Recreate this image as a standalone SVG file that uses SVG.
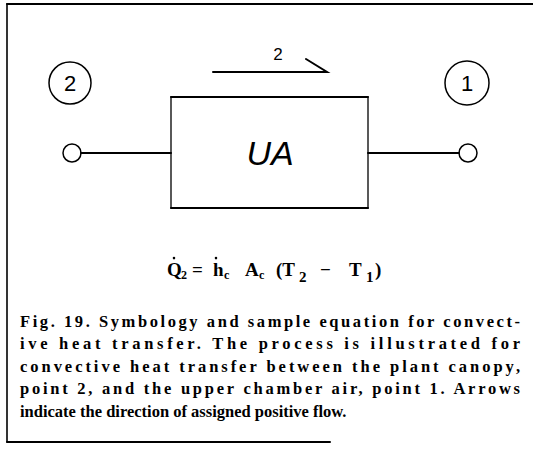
<svg xmlns="http://www.w3.org/2000/svg" width="533" height="456" viewBox="0 0 533 456">
<style>
.ln{stroke:#000;fill:none;stroke-linecap:round}
.lbl{font-family:"Liberation Sans",Arial,sans-serif;fill:#000}
.eq{font-family:"Liberation Serif","Times New Roman",serif;font-weight:bold;fill:#000;font-size:19px}
.sub{font-size:12px}
.cap{font-family:"Liberation Serif","Times New Roman",serif;font-weight:bold;fill:#000;font-size:16.5px}
</style>
<rect width="533" height="456" fill="#fff"/>
<g id="frame">
<path class="ln" d="M7,4 H533" stroke-width="2.2"/>
<path class="ln" d="M7,4 V442" stroke-width="1.6"/>
<path class="ln" d="M7,442 H330" stroke-width="2"/>
</g>
<g id="node2">
<circle class="ln" cx="70" cy="83" r="21" stroke-width="1.5"/>
<text class="lbl" x="70" y="91" font-size="22" text-anchor="middle">2</text>
</g>
<g id="node1">
<circle class="ln" cx="467" cy="83" r="22" stroke-width="1.5"/>
<text class="lbl" x="467" y="91" font-size="22" text-anchor="middle">1</text>
</g>
<g id="ua">
<rect x="171" y="97" width="197" height="111" class="ln" stroke-width="1.3"/>
<path class="ln" d="M171,97 H368 M171,208 H368" stroke-width="2"/>
<text class="lbl" x="270" y="165" font-size="34" font-style="italic" font-weight="300" text-anchor="middle">UA</text>
</g>
<g id="term2">
<circle class="ln" cx="72" cy="153" r="9" stroke-width="1.5"/>
</g>
<g id="term1">
<circle class="ln" cx="468" cy="153" r="9" stroke-width="1.5"/>
</g>
<g id="connectors">
<path class="ln" d="M81,153 H171" stroke-width="2"/>
<path class="ln" d="M368,153 H459" stroke-width="2"/>
<path class="ln" d="M213,72 H327 L306,59" stroke-width="2"/>
<text class="lbl" x="278" y="60" font-size="17" text-anchor="middle">2</text>
</g>
<g id="equation">
<text class="eq" y="276"><tspan x="167">Q</tspan><tspan class="sub" x="181" dy="3">2</tspan><tspan x="192" dy="-3">=</tspan><tspan x="213">h</tspan><tspan class="sub" x="224" dy="3">c</tspan><tspan x="245" dy="-3">A</tspan><tspan class="sub" x="259" dy="3">c</tspan><tspan x="276" dy="-3">(T</tspan><tspan x="299" dy="6" font-size="15">2</tspan><tspan x="320" dy="-6">−</tspan><tspan x="349">T</tspan><tspan x="366" dy="6" font-size="15">1</tspan><tspan x="375" dy="-6">)</tspan></text>
<path d="M174,258 v0.1 M216,258 v0.1" stroke="#000" stroke-width="2.6" stroke-linecap="round"/>
</g>
<g id="caption">
<text class="cap" x="20" y="327" textLength="500" lengthAdjust="spacing">Fig. 19.  Symbology and sample equation for convect-</text>
<text class="cap" x="20" y="349" textLength="500" lengthAdjust="spacing">ive  heat  transfer.   The  process  is  illustrated  for</text>
<text class="cap" x="20" y="372" textLength="500" lengthAdjust="spacing">convective  heat  transfer  between  the  plant  canopy,</text>
<text class="cap" x="20" y="394" textLength="500" lengthAdjust="spacing">point 2, and the upper chamber air, point 1.  Arrows</text>
<text class="cap" x="20" y="417" font-size="17">indicate the direction of assigned positive flow.</text>
</g>
</svg>
